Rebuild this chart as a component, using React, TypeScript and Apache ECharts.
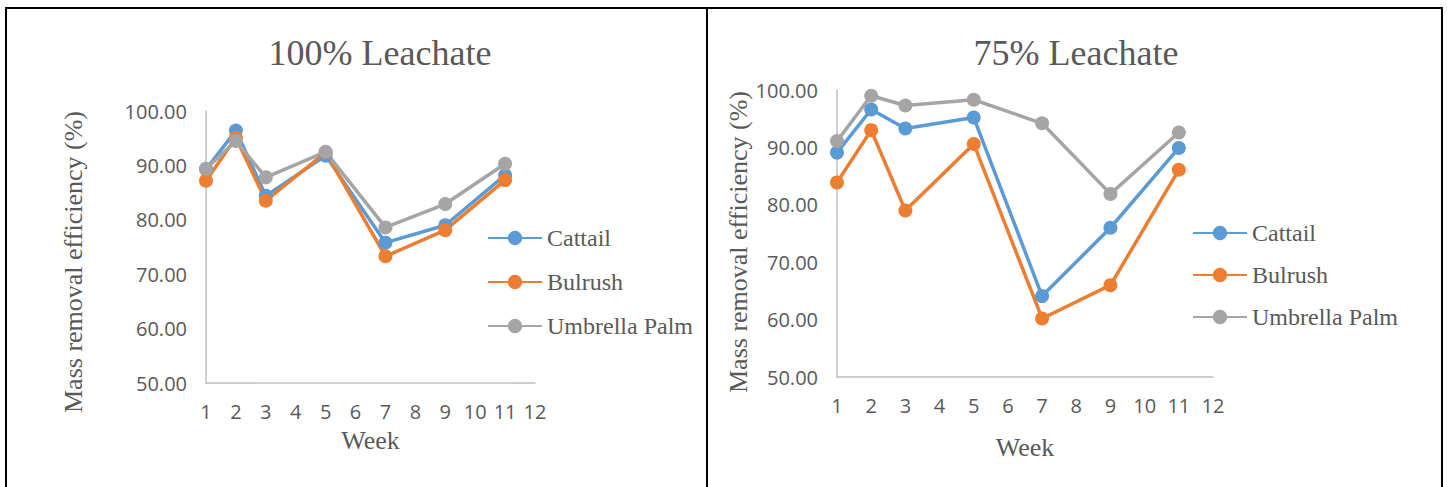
import React, { useEffect, useRef } from "react";
import * as echarts from "echarts";

const weeks = ["1", "2", "3", "4", "5", "6", "7", "8", "9", "10", "11", "12"];
const measuredWeeks = [1, 2, 3, 5, 7, 9, 11];
const seriesNames = ["Cattail", "Bulrush", "Umbrella Palm"];
const seriesColors = ["#5B9BD5", "#ED7D31", "#A5A5A5"];

const cattail100 = [89.3, 96.4, 84.4, 91.8, 75.8, 79.0, 88.2];
const bulrush100 = [87.2, 95.1, 83.5, 92.4, 73.3, 78.1, 87.3];
const umbrella100 = [89.4, 94.5, 87.8, 92.5, 78.6, 82.9, 90.3];

const cattail75 = [89.1, 96.6, 93.3, 95.2, 64.1, 76.0, 89.9];
const bulrush75 = [83.9, 93.0, 79.0, 90.6, 60.2, 66.0, 86.1];
const umbrella75 = [91.1, 99.0, 97.3, 98.3, 94.2, 81.9, 92.6];

const titles = ["100% Leachate", "75% Leachate"];
const yTitle = "Mass removal efficiency (%)";
const xTitle = "Week";

const TXT = "#595959";
const AXIS = "#BFBFBF";
const SERIF = "'Liberation Serif', 'Times New Roman', serif";
const SANS = "'Open Sans', sans-serif";

function toPoints(vals: number[]) {
  return vals.map((v, i) => [measuredWeeks[i] - 1, v]);
}

export default function App() {
  const ref = useRef<HTMLDivElement>(null);
  useEffect(() => {
    if (!ref.current) return;
    const chart = echarts.init(ref.current, undefined, { renderer: "svg" });
    const panels = [
      [cattail100, bulrush100, umbrella100],
      [cattail75, bulrush75, umbrella75],
    ];
    const xAxisCommon = (gridIndex: number, gap: number) => ({
      type: "category",
      gridIndex,
      data: weeks,
      boundaryGap: false,
      axisLine: { show: true, lineStyle: { color: AXIS, width: 1.5 } },
      axisTick: { show: false },
      axisLabel: { color: TXT, fontFamily: SANS, fontSize: 20, margin: 18, interval: 0 },
      splitLine: { show: false },
      name: xTitle,
      nameLocation: "middle",
      nameGap: gap,
      nameTextStyle: { color: TXT, fontFamily: SERIF, fontSize: 26 },
    });
    const yAxisCommon = (gridIndex: number) => ({
      type: "value",
      gridIndex,
      min: 50,
      max: 100,
      interval: 10,
      axisLine: { show: true, lineStyle: { color: AXIS, width: 1.5 } },
      axisTick: { show: false },
      splitLine: { show: false },
      axisLabel: {
        color: TXT,
        fontFamily: SANS,
        fontSize: 20,
        margin: 19,
        formatter: (v: number) => v.toFixed(2),
      },
    });
    const series: any[] = [];
    panels.forEach((p, pi) => {
      p.forEach((vals, si) => {
        series.push({
          type: "line",
          name: seriesNames[si],
          xAxisIndex: pi,
          yAxisIndex: pi,
          data: toPoints(vals),
          symbol: "circle",
          symbolSize: 14,
          color: seriesColors[si],
          lineStyle: { width: 3.5, color: seriesColors[si] },
          itemStyle: { color: seriesColors[si] },
        });
      });
    });
    const legendCommon = {
      orient: "vertical",
      data: seriesNames,
      itemWidth: 54,
      itemHeight: 18,
      selectedMode: false,
      textStyle: { color: TXT, fontFamily: SERIF, fontSize: 24 },
    };
    const borderStyle = { stroke: "#000", lineWidth: 2 };
    chart.setOption({
      animation: false,
      backgroundColor: "#fff",
      title: [
        {
          text: titles[0],
          left: 375,
          top: 30,
          textAlign: "center",
          textStyle: { color: TXT, fontFamily: SERIF, fontSize: 36, fontWeight: "normal" },
        },
        {
          text: titles[1],
          left: 1071,
          top: 30,
          textAlign: "center",
          textStyle: { color: TXT, fontFamily: SERIF, fontSize: 36, fontWeight: "normal" },
        },
      ],
      legend: [
        { ...legendCommon, left: 482, top: 221, itemGap: 20 },
        { ...legendCommon, left: 1187, top: 216, itemGap: 18 },
      ],
      grid: [
        { left: 206, top: 111, width: 329, height: 272 },
        { left: 837, top: 90, width: 376, height: 287 },
      ],
      xAxis: [xAxisCommon(0, 44), xAxisCommon(1, 57)],
      yAxis: [yAxisCommon(0), yAxisCommon(1)],
      series,
      graphic: [
        { type: "line", shape: { x1: 5, y1: 8, x2: 1443, y2: 8 }, style: borderStyle },
        { type: "line", shape: { x1: 6, y1: 8, x2: 6, y2: 487 }, style: borderStyle },
        { type: "line", shape: { x1: 707, y1: 8, x2: 707, y2: 487 }, style: borderStyle },
        { type: "line", shape: { x1: 1442, y1: 8, x2: 1442, y2: 487 }, style: borderStyle },
        {
          type: "text",
          x: 73,
          y: 262,
          rotation: Math.PI / 2,
          style: {
            text: yTitle,
            align: "center",
            verticalAlign: "middle",
            fill: TXT,
            font: `26px ${SERIF}`,
          },
        },
        {
          type: "text",
          x: 738,
          y: 242,
          rotation: Math.PI / 2,
          style: {
            text: yTitle,
            align: "center",
            verticalAlign: "middle",
            fill: TXT,
            font: `26px ${SERIF}`,
          },
        },
      ],
    });
    return () => chart.dispose();
  }, []);
  return (
    <div
      ref={ref}
      style={{ position: "fixed", left: 0, top: 0, width: 1447, height: 487, background: "#fff" }}
    />
  );
}
